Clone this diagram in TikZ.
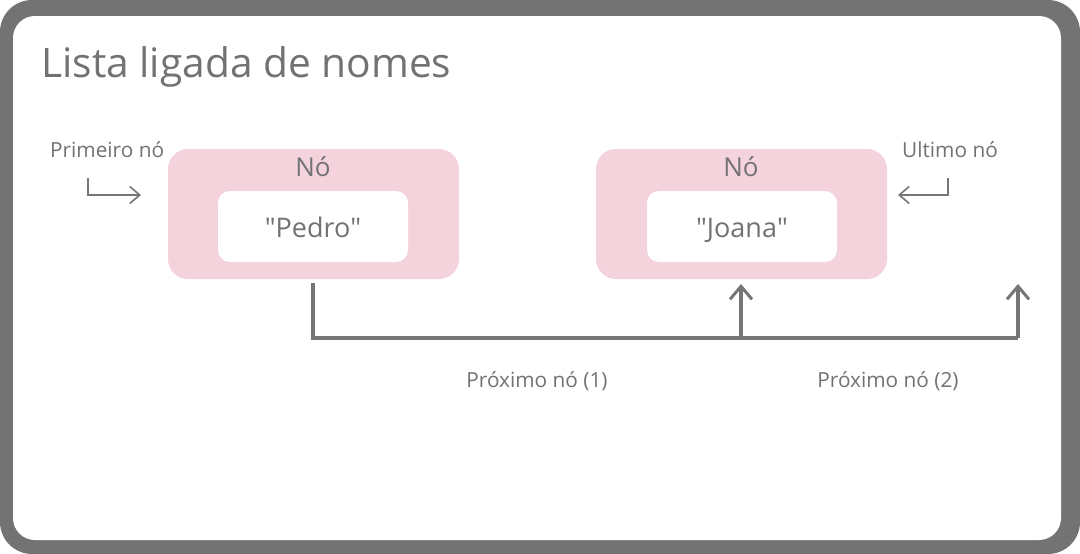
\documentclass[tikz,border=0pt]{standalone}
\usepackage{fontspec}
\setmainfont{Open Sans}
\usetikzlibrary{arrows.meta}
\definecolor{frame}{HTML}{737373}
\definecolor{txt}{HTML}{727272}
\definecolor{pinkbox}{HTML}{F4D3DC}
\definecolor{lineg}{HTML}{767676}
\tikzset{
  outerbox/.style={draw=none,fill=pinkbox,rounded corners=20pt,minimum width=291pt,minimum height=130pt,inner sep=0pt},
  innerbox/.style={draw=none,fill=white,rounded corners=12pt,minimum width=190pt,minimum height=71pt,inner sep=0pt,text=txt,font=\fontsize{27}{30}\selectfont,text height=28pt,text depth=5.6pt},
  nolabel/.style={text=txt,font=\fontsize{26}{30}\selectfont,inner sep=0pt},
  smalltxt/.style={text=txt,font=\fontsize{20.8}{24}\selectfont,inner sep=0pt},
  hookarrow/.style={draw=lineg,line width=1.6pt,-{Straight Barb[length=10pt,width=17pt,line width=1.6pt]}},
  linkline/.style={draw=lineg,line width=3.5pt},
  linkarrow/.style={draw=lineg,line width=3.5pt,-{Straight Barb[length=13pt,width=22pt,line width=3pt]}}
}
\begin{document}
\begin{tikzpicture}[x=1pt,y=-1pt]
\useasboundingbox (0,0) rectangle (1080,554);
\fill[frame,rounded corners=32pt] (0,0) rectangle (1080,554);
\fill[white,rounded corners=22pt] (13,16) rectangle (1061,540);
\node[anchor=base west,text=txt,font=\fontsize{40.7}{46}\selectfont,inner sep=0pt] (title) at (41,77) {Lista ligada de nomes};
% nodes
\node[outerbox] (n1) at (313.5,214) {};
\node[innerbox] (v1) at (313,226.5) {\textquotedbl Pedro\textquotedbl};
\node[nolabel,anchor=base] (l1) at (313,176) {Nó};
\node[outerbox] (n2) at (741.5,214) {};
\node[innerbox] (v2) at (742,226.5) {\textquotedbl Joana\textquotedbl};
\node[nolabel,anchor=base] (l2) at (741,176) {Nó};
% first / last
\node[smalltxt,anchor=base west] (first) at (50,157.5) {Primeiro nó};
\coordinate (f0) at (88,178);
\coordinate (f1) at (88,195);
\coordinate (f2) at (141,195);
\draw[hookarrow] (f0) -- (f1) -- (f2);
\node[smalltxt,anchor=base west] (last) at (902,157.5) {Ultimo nó};
\coordinate (u0) at (948,178);
\coordinate (u1) at (948,195);
\coordinate (u2) at (898,195);
\draw[hookarrow] (u0) -- (u1) -- (u2);
% links
\coordinate (s0) at (313,283);
\coordinate (s1) at (313,338);
\coordinate (j1) at (741,338);
\coordinate (j0) at (741,284);
\coordinate (e1) at (1018,338);
\coordinate (e0) at (1018,284);
\draw[linkline] (s0) -- (s1) -- (e1);
\draw[linkarrow] (j1) -- (j0);
\draw[linkarrow] (e1) -- (e0);
\node[smalltxt,anchor=base] (p1) at (537,387) {Próximo nó (1)};
\node[smalltxt,anchor=base] (p2) at (888,387) {Próximo nó (2)};
\end{tikzpicture}
\end{document}
